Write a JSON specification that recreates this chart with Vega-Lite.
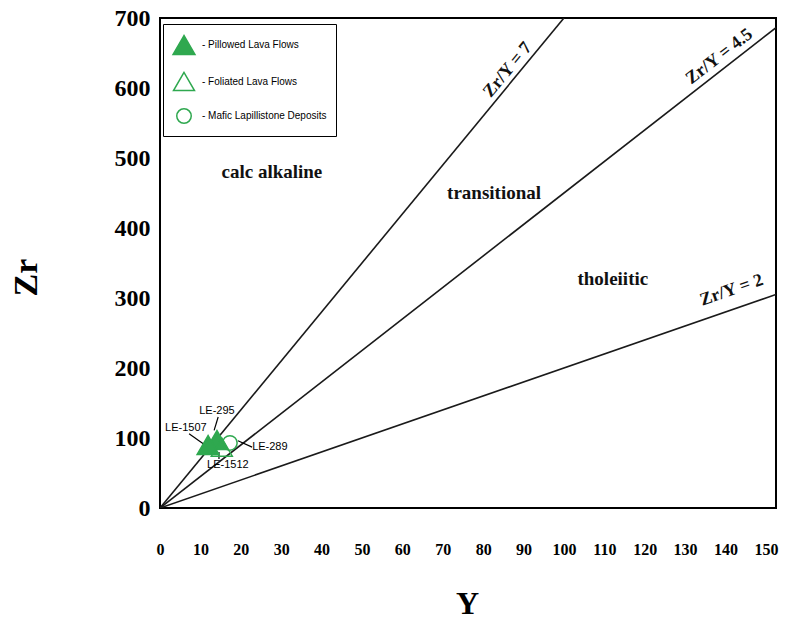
{
  "$schema": "https://vega.github.io/schema/vega-lite/v6.json",
  "width": 616,
  "height": 490,
  "autosize": {"type": "none"},
  "padding": {"left": 160, "top": 18, "right": 9, "bottom": 111},
  "background": "white",
  "config": {
    "view": {"stroke": "black", "strokeWidth": 2},
    "font": "Liberation Serif",
    "legend": {
      "title": null,
      "orient": "none",
      "legendX": 3,
      "legendY": 6,
      "strokeColor": "black",
      "fillColor": "white",
      "padding": 9,
      "rowPadding": 11,
      "labelOffset": 6,
      "labelFont": "Liberation Sans",
      "labelFontSize": 10,
      "labelColor": "black"
    }
  },
  "datasets": {
    "ratios": [
      {"ratio": "Zr/Y = 7", "Y": 0, "Zr": 0},
      {"ratio": "Zr/Y = 7", "Y": 100, "Zr": 700},
      {"ratio": "Zr/Y = 4.5", "Y": 0, "Zr": 0},
      {"ratio": "Zr/Y = 4.5", "Y": 152.5, "Zr": 686.25},
      {"ratio": "Zr/Y = 2", "Y": 0, "Zr": 0},
      {"ratio": "Zr/Y = 2", "Y": 152.5, "Zr": 305}
    ],
    "samples": [
      {"sample": "LE-295", "type": "Pillowed Lava Flows", "Y": 14.1, "Zr": 97},
      {"sample": "LE-1507", "type": "Pillowed Lava Flows", "Y": 11.9, "Zr": 90},
      {"sample": "LE-1512", "type": "Foliated Lava Flows", "Y": 15.3, "Zr": 87},
      {"sample": "LE-289", "type": "Mafic Lapillistone Deposits", "Y": 17.3, "Zr": 93}
    ],
    "sampleLabels": [
      {"sample": "LE-295", "Y": 14.1, "Zr": 139, "Y2": 14.4, "Zr2": 130, "Y3": 13.4, "Zr3": 111},
      {"sample": "LE-1507", "Y": 6.4, "Zr": 114, "Y2": 7.2, "Zr2": 106, "Y3": 11.4, "Zr3": 89},
      {"sample": "LE-289", "Y": 27.2, "Zr": 87, "Y2": 22.8, "Zr2": 87, "Y3": 19.3, "Zr3": 96},
      {"sample": "LE-1512", "Y": 16.8, "Zr": 61, "Y2": 14.6, "Zr2": 80, "Y3": 14.6, "Zr3": 70}
    ],
    "fields": [
      {"name": "calc alkaline", "Y": 27.7, "Zr": 480},
      {"name": "transitional", "Y": 82.7, "Zr": 450},
      {"name": "tholeiitic", "Y": 112.1, "Zr": 327}
    ]
  },
  "encoding": {
    "x": {
      "field": "Y",
      "type": "quantitative",
      "scale": {"domain": [0, 152.5], "nice": false, "zero": false},
      "axis": {
        "values": [0, 10, 20, 30, 40, 50, 60, 70, 80, 90, 100, 110, 120, 130, 140, 150],
        "title": "Y",
        "grid": false,
        "domain": false,
        "ticks": false,
        "labelPadding": 33,
        "labelFont": "Liberation Serif",
        "labelFontWeight": "bold",
        "labelFontSize": 16,
        "labelColor": "black",
        "labelFlush": false,
        "titleFont": "Liberation Serif",
        "titleFontWeight": "bold",
        "titleFontSize": 32,
        "titleColor": "black",
        "titleX": 307,
        "titleY": 95,
        "titleBaseline": "middle"
      }
    },
    "y": {
      "field": "Zr",
      "type": "quantitative",
      "scale": {"domain": [0, 700], "nice": false},
      "axis": {
        "values": [0, 100, 200, 300, 400, 500, 600, 700],
        "title": "Zr",
        "grid": false,
        "domain": false,
        "ticks": false,
        "labelPadding": 10,
        "labelFont": "Liberation Serif",
        "labelFontWeight": "bold",
        "labelFontSize": 24,
        "labelColor": "black",
        "labelFlush": false,
        "titleFont": "Liberation Serif",
        "titleFontWeight": "bold",
        "titleFontSize": 34,
        "titleColor": "black",
        "titleX": -134,
        "titleY": 259,
        "titleAngle": -90,
        "titleBaseline": "middle",
        "titleAlign": "center"
      }
    }
  },
  "layer": [
    {
      "data": {"name": "ratios"},
      "mark": {"type": "line", "color": "#1a1a1a", "strokeWidth": 1.6, "clip": true},
      "encoding": {"detail": {"field": "ratio"}}
    },
    {
      "data": {"name": "sampleLabels"},
      "mark": {"type": "rule", "color": "black", "strokeWidth": 1.2},
      "encoding": {
        "x": {"field": "Y2", "type": "quantitative"},
        "y": {"field": "Zr2", "type": "quantitative"},
        "x2": {"field": "Y3"},
        "y2": {"field": "Zr3"}
      }
    },
    {
      "data": {"name": "samples"},
      "mark": {"type": "point", "filled": true, "stroke": "#2fa84f", "strokeWidth": 1.5, "opacity": 1},
      "encoding": {
        "shape": {
          "field": "type",
          "type": "nominal",
          "scale": {
            "domain": ["Pillowed Lava Flows", "Foliated Lava Flows", "Mafic Lapillistone Deposits"],
            "range": ["triangle-up", "triangle-up", "circle"]
          },
          "legend": {
            "labelExpr": "'- ' + datum.label",
            "encode": {
              "symbols": {
                "update": {
                  "stroke": {"value": "#2fa84f"},
                  "strokeWidth": {"value": 1.5}
                }
              }
            }
          }
        },
        "fill": {
          "field": "type",
          "type": "nominal",
          "scale": {
            "domain": ["Pillowed Lava Flows", "Foliated Lava Flows", "Mafic Lapillistone Deposits"],
            "range": ["#2fa84f", "transparent", "transparent"]
          },
          "legend": {
            "labelExpr": "'- ' + datum.label",
            "encode": {
              "symbols": {
                "update": {
                  "stroke": {"value": "#2fa84f"},
                  "strokeWidth": {"value": 1.5}
                }
              }
            }
          }
        },
        "size": {
          "field": "type",
          "type": "nominal",
          "scale": {
            "type": "ordinal",
            "domain": ["Pillowed Lava Flows", "Foliated Lava Flows", "Mafic Lapillistone Deposits"],
            "range": [480, 440, 210]
          },
          "legend": {
            "labelExpr": "'- ' + datum.label",
            "encode": {
              "symbols": {
                "update": {
                  "stroke": {"value": "#2fa84f"},
                  "strokeWidth": {"value": 1.5}
                }
              }
            }
          }
        }
      }
    },
    {
      "data": {"name": "sampleLabels"},
      "mark": {"type": "text", "font": "Liberation Sans", "fontSize": 11, "color": "black", "align": "center", "baseline": "middle"},
      "encoding": {"text": {"field": "sample"}}
    },
    {
      "data": {"name": "fields"},
      "mark": {"type": "text", "font": "Liberation Serif", "fontWeight": "bold", "fontSize": 19, "color": "#111", "align": "center", "baseline": "middle"},
      "encoding": {"text": {"field": "name"}}
    },
    {
      "data": {"values": [{"label": "Zr/Y = 7", "Y": 86.1, "Zr": 626}]},
      "mark": {"type": "text", "font": "Liberation Serif", "fontWeight": "bold", "fontSize": 18, "color": "#111", "angle": -50.5, "align": "center", "baseline": "middle"},
      "encoding": {"text": {"field": "label"}}
    },
    {
      "data": {"values": [{"label": "Zr/Y = 4.5", "Y": 138.5, "Zr": 645}]},
      "mark": {"type": "text", "font": "Liberation Serif", "fontWeight": "bold", "fontSize": 18, "color": "#111", "angle": -37.9, "align": "center", "baseline": "middle"},
      "encoding": {"text": {"field": "label"}}
    },
    {
      "data": {"values": [{"label": "Zr/Y = 2", "Y": 141.5, "Zr": 311}]},
      "mark": {"type": "text", "font": "Liberation Serif", "fontWeight": "bold", "fontSize": 18, "color": "#111", "angle": -19.1, "align": "center", "baseline": "middle"},
      "encoding": {"text": {"field": "label"}}
    }
  ]
}
